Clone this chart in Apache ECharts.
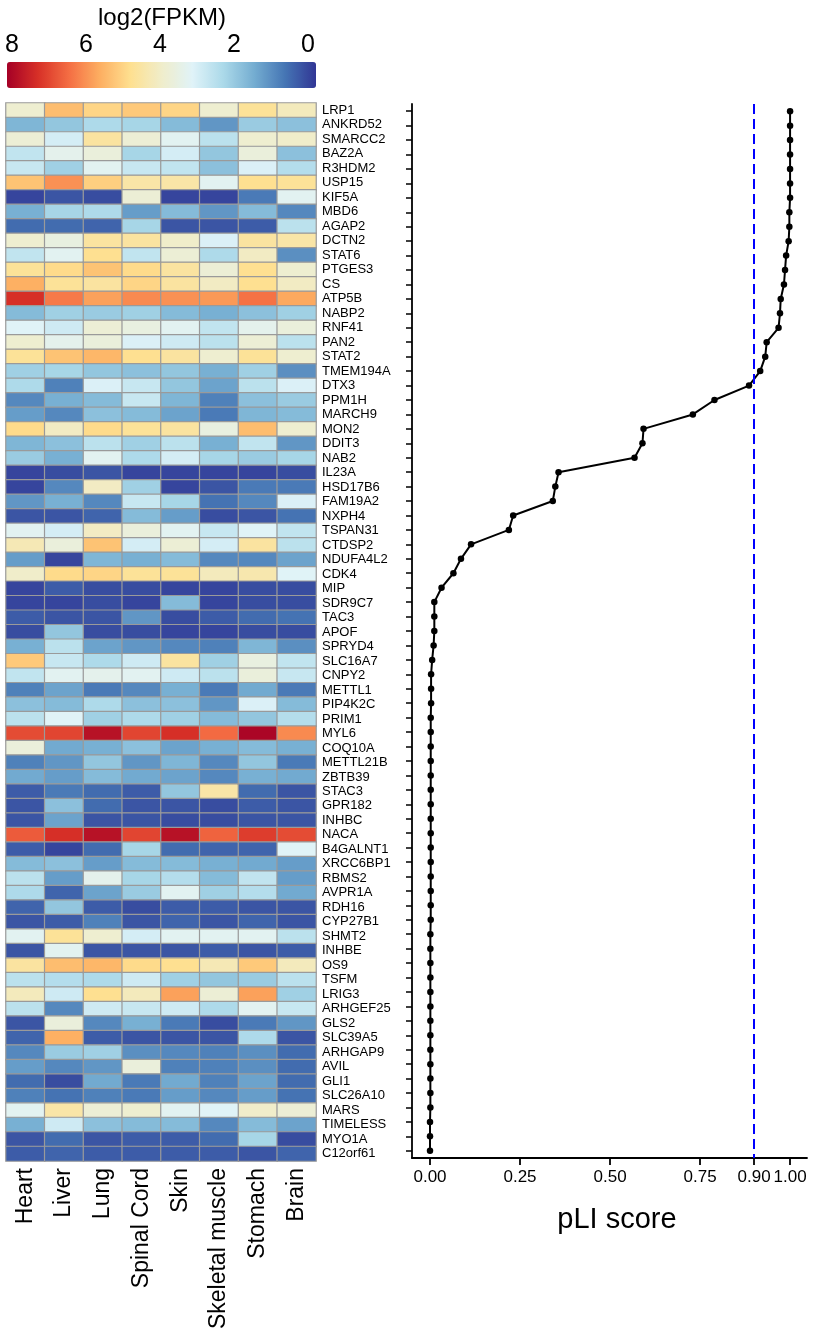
<!DOCTYPE html>
<html>
<head>
<meta charset="utf-8">
<title>log2(FPKM) heatmap and pLI score</title>
<script src="https://cdn.jsdelivr.net/npm/echarts@6/dist/echarts.min.js"></script>
<style>
  html, body { margin: 0; padding: 0; background: #fff; }
  #chart { width: 820px; height: 1339px; }
</style>
</head>
<body>
<div id="chart"></div>
<script>
const genes = [
  "LRP1", "ANKRD52", "SMARCC2", "BAZ2A", "R3HDM2", "USP15", "KIF5A", "MBD6", "AGAP2", "DCTN2",
  "STAT6", "PTGES3", "CS", "ATP5B", "NABP2", "RNF41", "PAN2", "STAT2", "TMEM194A", "DTX3",
  "PPM1H", "MARCH9", "MON2", "DDIT3", "NAB2", "IL23A", "HSD17B6", "FAM19A2", "NXPH4", "TSPAN31",
  "CTDSP2", "NDUFA4L2", "CDK4", "MIP", "SDR9C7", "TAC3", "APOF", "SPRYD4", "SLC16A7", "CNPY2",
  "METTL1", "PIP4K2C", "PRIM1", "MYL6", "COQ10A", "METTL21B", "ZBTB39", "STAC3", "GPR182", "INHBC",
  "NACA", "B4GALNT1", "XRCC6BP1", "RBMS2", "AVPR1A", "RDH16", "CYP27B1", "SHMT2", "INHBE", "OS9",
  "TSFM", "LRIG3", "ARHGEF25", "GLS2", "SLC39A5", "ARHGAP9", "AVIL", "GLI1", "SLC26A10", "MARS",
  "TIMELESS", "MYO1A", "C12orf61",
];

const tissues = ["Heart", "Liver", "Lung", "Spinal Cord", "Skin", "Skeletal muscle", "Stomach", "Brain"];

// log2(FPKM) per tissue, one value per gene (same order as genes)
const heart = [
  3.9, 1.7, 3.8, 2.7, 2.8, 5.3, 0.1, 1.6, 0.6, 3.9, 2.7, 4.7, 5.6, 7.3, 1.8, 3.2, 3.9, 4.7, 2.2, 2.4,
  1.0, 1.3, 4.9, 1.7, 2.1, 0.1, 0.1, 1.2, 0.3, 3.3, 4.3, 1.3, 4.0, 0.1, 0.1, 0.4, 0.2, 1.6, 5.2, 2.7,
  0.9, 1.9, 2.6, 6.9, 3.7, 0.9, 1.5, 0.4, 0.3, 0.3, 6.7, 0.4, 1.8, 2.6, 2.4, 0.5, 0.3, 3.3, 0.3, 4.6,
  2.6, 4.2, 2.6, 0.3, 0.5, 1.0, 1.3, 0.6, 0.9, 3.3, 1.6, 0.3, 0.4,
];
const liver = [
  5.4, 2.0, 3.0, 3.4, 2.2, 6.0, 0.3, 2.3, 0.6, 3.6, 3.3, 4.9, 4.7, 6.3, 2.2, 2.9, 3.4, 5.3, 2.3, 0.9,
  1.6, 1.0, 4.1, 1.9, 1.6, 0.2, 1.0, 1.6, 0.3, 3.0, 3.7, 0.1, 4.9, 0.4, 0.1, 0.3, 2.0, 2.6, 2.8, 3.3,
  1.4, 1.8, 3.2, 7.0, 1.5, 1.2, 1.3, 0.8, 1.9, 1.4, 7.3, 0.1, 1.9, 1.3, 0.5, 2.0, 0.4, 4.7, 3.3, 5.4,
  2.5, 2.9, 1.0, 3.7, 5.6, 2.1, 1.0, 0.2, 0.7, 4.5, 2.9, 0.6, 0.5,
];
const lung = [
  5.0, 2.4, 4.6, 3.7, 3.3, 5.1, 0.2, 2.4, 0.5, 4.6, 4.8, 5.3, 4.6, 5.8, 2.1, 3.8, 3.7, 5.5, 2.0, 3.1,
  1.8, 1.9, 4.9, 2.6, 3.3, 0.3, 4.1, 1.0, 0.5, 4.1, 5.3, 1.7, 5.0, 0.2, 0.2, 0.3, 0.2, 1.4, 2.4, 3.4,
  0.8, 2.4, 2.2, 7.8, 1.6, 2.0, 1.8, 0.6, 0.6, 0.3, 7.8, 0.6, 1.3, 3.4, 1.4, 0.4, 0.9, 3.9, 0.3, 5.5,
  2.4, 4.8, 2.9, 1.0, 0.4, 2.2, 1.2, 1.5, 0.9, 3.8, 1.9, 0.3, 0.4,
];
const spinalCord = [
  5.2, 2.3, 3.8, 2.3, 2.8, 4.5, 3.8, 1.3, 2.3, 4.6, 2.7, 4.9, 5.0, 6.1, 2.2, 3.6, 3.1, 4.8, 1.9, 2.8,
  2.8, 1.8, 4.7, 2.2, 2.4, 0.1, 2.2, 2.8, 1.8, 3.7, 3.0, 1.6, 4.7, 0.2, 0.1, 1.2, 0.2, 1.2, 2.9, 3.3,
  1.0, 1.9, 2.4, 7.0, 1.9, 1.2, 1.5, 0.4, 0.3, 0.3, 7.0, 2.3, 1.8, 2.3, 2.1, 0.2, 0.3, 3.0, 0.3, 4.9,
  2.9, 4.2, 2.8, 1.6, 0.3, 1.1, 3.7, 0.8, 0.8, 3.9, 1.8, 0.4, 0.4,
];
const skin = [
  5.0, 1.8, 3.3, 3.0, 2.7, 4.5, 0.1, 1.8, 0.3, 4.0, 3.8, 4.6, 4.6, 6.0, 1.8, 3.3, 2.9, 4.6, 2.0, 2.0,
  1.7, 1.4, 4.6, 2.6, 3.0, 0.1, 0.1, 2.3, 1.3, 3.3, 3.8, 1.8, 4.7, 0.1, 1.8, 0.2, 0.1, 1.0, 4.6, 2.9,
  1.6, 1.9, 2.2, 7.3, 1.4, 1.7, 1.4, 2.0, 0.3, 0.2, 7.8, 0.6, 1.8, 2.5, 3.3, 0.4, 0.5, 3.3, 0.3, 4.8,
  2.2, 5.8, 2.9, 0.8, 0.3, 1.0, 0.9, 1.5, 1.3, 3.3, 1.8, 0.4, 0.4,
];
const skeletalMuscle = [
  3.9, 1.2, 2.6, 2.0, 1.9, 3.3, 0.1, 1.2, 0.3, 3.1, 2.4, 3.8, 4.1, 5.9, 1.6, 2.7, 2.6, 3.9, 1.6, 1.4,
  0.9, 0.8, 3.6, 1.6, 2.3, 0.1, 0.3, 0.7, 0.2, 2.8, 3.0, 1.0, 4.2, 0.1, 0.1, 0.4, 0.1, 0.9, 2.2, 2.6,
  0.8, 1.2, 1.8, 6.5, 1.6, 1.0, 1.0, 4.5, 0.2, 0.2, 6.6, 0.5, 1.6, 1.8, 2.2, 0.4, 0.3, 3.3, 0.4, 4.3,
  2.0, 3.8, 2.4, 0.2, 0.3, 0.9, 0.9, 0.9, 1.0, 3.2, 1.0, 0.6, 0.4,
];
const stomach = [
  4.7, 2.1, 3.9, 3.7, 3.1, 4.8, 0.8, 1.8, 0.4, 4.6, 4.1, 4.8, 4.8, 6.4, 1.9, 3.4, 3.8, 4.7, 2.2, 2.6,
  1.9, 1.7, 5.4, 2.7, 2.1, 0.1, 0.8, 1.0, 0.3, 3.2, 4.6, 1.0, 4.4, 0.2, 0.2, 0.6, 0.2, 1.7, 3.6, 3.7,
  1.5, 3.1, 2.0, 8.0, 1.8, 2.0, 1.6, 0.6, 0.4, 0.3, 7.1, 0.5, 1.5, 2.7, 2.5, 0.3, 0.5, 3.3, 0.3, 5.2,
  2.1, 5.8, 3.3, 0.8, 2.4, 1.1, 1.1, 1.4, 1.3, 4.0, 1.8, 2.3, 0.3,
];
const brain = [
  4.2, 1.9, 4.0, 1.9, 2.5, 4.7, 3.3, 1.0, 2.6, 4.5, 1.1, 3.9, 4.1, 5.7, 2.2, 3.7, 2.6, 3.9, 1.1, 3.1,
  2.1, 1.8, 3.9, 1.2, 2.3, 0.2, 0.8, 3.1, 0.7, 2.7, 2.6, 1.4, 3.2, 0.2, 0.2, 0.7, 0.2, 1.1, 2.7, 2.8,
  0.8, 1.8, 2.5, 6.1, 1.6, 0.8, 1.5, 0.3, 0.3, 0.3, 6.9, 3.2, 1.3, 1.3, 1.5, 0.3, 0.3, 2.6, 0.4, 4.2,
  2.6, 2.2, 2.8, 1.2, 0.3, 0.6, 0.6, 0.6, 0.7, 3.8, 1.4, 0.2, 0.5,
];

const pli = [
  1.0, 1.0, 1.0, 1.0, 1.0, 1.0, 1.0, 0.998, 0.998, 0.996,
  0.989, 0.986, 0.983, 0.974, 0.972, 0.968, 0.935, 0.931, 0.917, 0.886,
  0.79, 0.73, 0.593, 0.59, 0.568, 0.357, 0.348, 0.341, 0.231, 0.219,
  0.114, 0.086, 0.065, 0.032, 0.012, 0.012, 0.012, 0.01, 0.006, 0.003,
  0.003, 0.003, 0.002, 0.002, 0.002, 0.002, 0.002, 0.002, 0.002, 0.002,
  0.002, 0.002, 0.002, 0.002, 0.002, 0.002, 0.002, 0.001, 0.001, 0.001,
  0.001, 0.001, 0.001, 0.001, 0.001, 0.001, 0.001, 0.001, 0.001, 0.001,
  0, 0, 0,
];

const pliTicks = [0, 0.25, 0.5, 0.75, 0.9, 1.0];
const pliCutoff = 0.9;

const scaleTicks = [0, 2, 4, 6, 8];
const palette = [
  "#313695", "#4575b4", "#74add1", "#abd9e9", "#e0f3f8", "#f0edca",
  "#fee090", "#fdae61", "#f46d43", "#d73027", "#a50026",
];

const font = "Liberation Sans, Arial, sans-serif";

const tissueValues = [heart, liver, lung, spinalCord, skin, skeletalMuscle, stomach, brain];
const cells = [];
tissueValues.forEach((col, i) => {
  col.forEach((v, j) => cells.push([i, j, v]));
});

const chart = echarts.init(document.getElementById("chart"), null, { renderer: "canvas" });

const option = {
  backgroundColor: "#fff",
  animation: false,
  textStyle: { fontFamily: font, color: "#000" },
  title: {
    text: "log2(FPKM)",
    left: 98,
    top: 6,
    padding: 0,
    textStyle: { fontFamily: font, fontSize: 24, fontWeight: "normal", color: "#000" },
  },
  visualMap: {
    type: "continuous",
    seriesIndex: 0,
    min: -0.1,
    max: 8.1,
    orient: "horizontal",
    inverse: true,
    left: 7,
    top: 62,
    padding: 0,
    itemWidth: 26,
    itemHeight: 309,
    calculable: false,
    text: null,
    inRange: { color: palette },
  },
  grid: [
    { left: 6, top: 103, width: 310, height: 1058 },
    { left: 412, top: 104, width: 395, height: 1054 },
    { left: 12, top: 62, width: 296, height: 26 },
  ],
  xAxis: [
    {
      gridIndex: 0,
      type: "category",
      data: tissues,
      axisLine: { show: false },
      axisTick: { show: false },
      axisLabel: { rotate: 90, fontSize: 23, margin: 7, color: "#000", interval: 0 },
    },
    {
      gridIndex: 1,
      type: "value",
      min: -0.05,
      max: 1.047,
      splitLine: { show: false },
      axisLine: { show: true, onZero: false, lineStyle: { color: "#000", width: 1.8 } },
      axisTick: { show: true, customValues: pliTicks, length: 7, lineStyle: { color: "#000", width: 1.8 } },
      axisLabel: {
        customValues: pliTicks,
        fontSize: 17,
        margin: 11,
        color: "#000",
        formatter: (v) => v.toFixed(2),
      },
      name: "pLI score",
      nameLocation: "middle",
      nameGap: 47,
      nameTextStyle: { fontSize: 29, color: "#000", padding: [0, 0, 0, 15] },
    },
    {
      gridIndex: 2,
      type: "value",
      min: 0,
      max: 8,
      interval: 2,
      inverse: true,
      position: "top",
      splitLine: { show: false },
      axisLine: { show: false },
      axisTick: { show: false },
      axisLabel: { fontSize: 25, margin: 4, color: "#000", customValues: scaleTicks },
    },
  ],
  yAxis: [
    {
      gridIndex: 0,
      type: "category",
      data: genes,
      inverse: true,
      position: "right",
      axisLine: { show: false },
      axisTick: { show: false },
      axisLabel: { fontSize: 13, margin: 6, color: "#000", interval: 0 },
    },
    {
      gridIndex: 1,
      type: "category",
      data: genes,
      inverse: true,
      axisLine: { show: true, onZero: false, lineStyle: { color: "#000", width: 1.8 } },
      axisTick: { show: true, alignWithLabel: true, length: 6, interval: 0, lineStyle: { color: "#000", width: 1.5 } },
      axisLabel: { show: false, interval: 0 },
    },
    {
      gridIndex: 2,
      type: "value",
      show: false,
    },
  ],
  series: [
    {
      name: "log2(FPKM)",
      type: "heatmap",
      xAxisIndex: 0,
      yAxisIndex: 0,
      data: cells,
      itemStyle: { borderColor: "#9a9a9a", borderWidth: 1.2 },
      emphasis: { disabled: true },
    },
    {
      name: "pLI",
      type: "line",
      xAxisIndex: 1,
      yAxisIndex: 1,
      data: pli,
      symbol: "circle",
      symbolSize: 6.5,
      lineStyle: { color: "#000", width: 2 },
      itemStyle: { color: "#000" },
      markLine: {
        silent: true,
        symbol: "none",
        label: { show: false },
        lineStyle: { color: "#0000ff", type: [10, 5], width: 2 },
        data: [{ xAxis: pliCutoff }],
      },
    },
  ],
};

chart.setOption(option);
</script>
</body>
</html>
